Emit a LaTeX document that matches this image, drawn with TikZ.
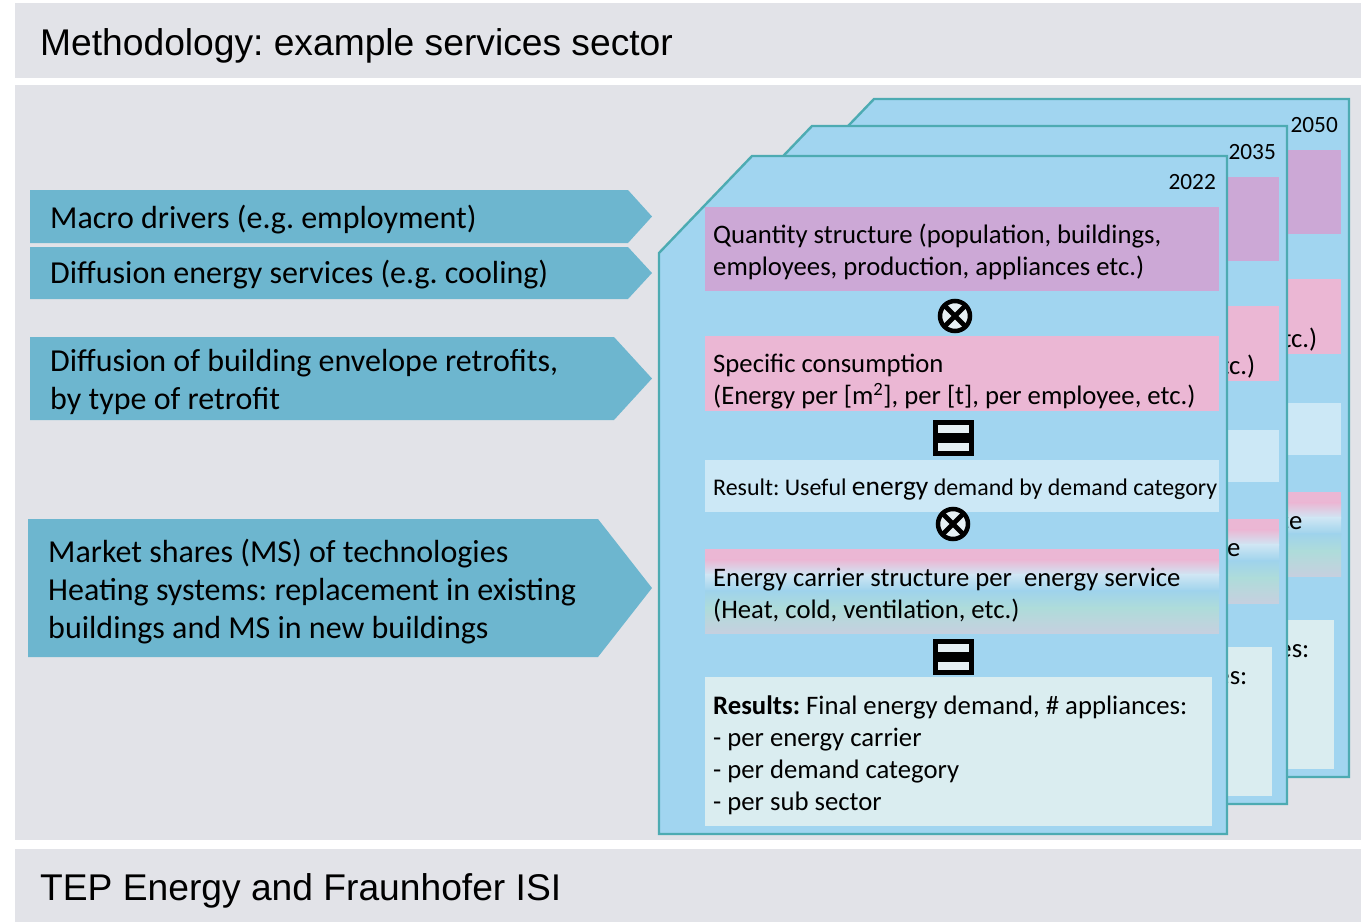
\documentclass[tikz,border=0pt]{standalone}
\usepackage{fontspec}
\setmainfont{Carlito}
\newfontfamily\arialf{Liberation Sans}
\frenchspacing
\definecolor{bggray}{HTML}{E2E3E8}
\definecolor{arrowc}{HTML}{6DB6CF}
\definecolor{cardc}{HTML}{A1D5F0}
\definecolor{cardb}{HTML}{4DABB2}
\definecolor{purp}{HTML}{CCA8D6}
\definecolor{pinkc}{HTML}{EBB7D4}
\definecolor{lightc}{HTML}{CCE8F6}
\definecolor{resc}{HTML}{DAEDF0}
\definecolor{opfill}{HTML}{E6F0F4}
\definecolor{ga}{HTML}{EBB7D4}
\definecolor{gb}{HTML}{CFE6F4}
\definecolor{gc}{HTML}{9FD3EC}
\definecolor{gd}{HTML}{AEDCDA}
\definecolor{ge}{HTML}{C6D0DF}
\tikzset{
  band/.style={fill=bggray},
  cardshape/.style={fill=cardc, draw=cardb, line width=2.4pt, line join=miter},
  arrowshape/.style={fill=arrowc},
  arrowtext/.style={anchor=west, inner sep=0pt, align=left, font=\fontsize{32}{38}\selectfont},
  boxtext/.style={anchor=west, inner sep=0pt, align=left, font=\fontsize{26.7}{32}\selectfont},
  yeartext/.style={anchor=east, inner sep=0pt, font=\fontsize{23.3}{27}\selectfont},
  headtext/.style={anchor=base west, inner sep=0pt, font=\arialf\fontsize{37.2}{44}\selectfont},
  otimesop/.style={circle, fill=opfill, draw=black, line width=4.5pt, minimum size=30pt, inner sep=0pt,
    path picture={\draw[line width=4.8pt] (path picture bounding box.north west) -- (path picture bounding box.south east)
      (path picture bounding box.north east) -- (path picture bounding box.south west);}},
  eqop/.style={rectangle, fill=black, minimum width=41pt, minimum height=36pt, inner sep=0pt,
    path picture={\fill[opfill] ([xshift=5pt,yshift=-5pt]path picture bounding box.north west) rectangle ([xshift=-5pt,yshift=-13pt]path picture bounding box.north east);
      \fill[opfill] ([xshift=5pt,yshift=5pt]path picture bounding box.south west) rectangle ([xshift=-5pt,yshift=13pt]path picture bounding box.south east);}},
}
% texts of the front card
\newcommand{\fronttexts}[1]{%
  \node[boxtext] (#1q) at (713,252) {Quantity structure (population, buildings,\\employees, production, appliances etc.)};
  \node[boxtext] (#1s) at (713,382) {Specific consumption\\(Energy per [m\textsuperscript{2}], per [t], per employee, etc.)};
  \node[anchor=west, inner sep=0pt, font=\fontsize{23.9}{28}\selectfont] (#1u) at (713,490) {Result: Useful {\fontsize{27.5}{30}\selectfont energy} demand by demand category};
  \node[boxtext] (#1c) at (713,595) {Energy carrier structure per\ \ energy service\\(Heat, cold, ventilation, etc.)};
  \node[boxtext] (#1r) at (713,755) {\textbf{Results:} Final energy demand, \# appliances:\\- per energy carrier\\- per demand category\\- per sub sector};
}
% only the ends of the texts that stick out from behind the cards in front
\newcommand{\backtexts}[1]{%
  \node[boxtext] (#1s) at (713,382) {\phantom{Specific consumption}\\\phantom{(Energy per [m\textsuperscript{2}], per [t], per employee, }etc.)};
  \node[boxtext] (#1c) at (713,595) {\phantom{Energy carrier structure per\ \ energy serv}ice\\\phantom{(Heat, cold, ventilation, etc.)}};
  \node[boxtext] (#1r) at (713,755) {\phantom{\textbf{Results:} Final energy demand, \# applia}nces:\\\phantom{- per energy carrier}\\\phantom{- per demand category}\\\phantom{- per sub sector}};
}
\newcommand{\drawcard}[5]{%
\begin{scope}[shift={(#1,#2)}]
  \path[cardshape] (659,253) -- (752,156) -- (1227,156) -- (1227,834) -- (659,834) -- cycle;
  \node[yeartext] (#4y) at (1216,182) {#3};
  \fill[purp] (705,207) rectangle (1219,291);
  \node[otimesop] (#4xa) at (955,316) {};
  \fill[pinkc] (705,336) rectangle (1219,411);
  \node[eqop] (#4ea) at (953.5,438) {};
  \fill[lightc] (705,460) rectangle (1219,512);
  \node[otimesop] (#4xb) at (953,524) {};
  \fill[ga] (705,549) rectangle (1219,560);
  \shade[top color=ga, bottom color=gb] (705,559.5) rectangle (1219,575);
  \shade[top color=gb, bottom color=gc] (705,574.5) rectangle (1219,591);
  \shade[top color=gc, bottom color=gd] (705,590.5) rectangle (1219,608);
  \shade[top color=gd, bottom color=ge] (705,607.5) rectangle (1219,633);
  \node[eqop] (#4eb) at (953.5,657) {};
  \fill[resc] (705,677) rectangle (1212,826);
  #5{#4}
\end{scope}}
\begin{document}
\begin{tikzpicture}[x=1pt, y=-1pt]
  \useasboundingbox (0,0) rectangle (1361,922);
  \fill[white] (0,0) rectangle (1361,922);
  % bands
  \fill[band] (15,3) rectangle (1361,78);
  \fill[band] (15,85) rectangle (1361,840);
  \fill[band] (15,849) rectangle (1361,922);
  \node[headtext] (title) at (40,55) {Methodology: example services sector};
  \node[headtext] (foot) at (40,900) {TEP Energy and Fraunhofer ISI};
  % input arrows
  \path[arrowshape] (30,190) -- (628,190) -- (652,216.5) -- (628,243) -- (30,243) -- cycle;
  \node[arrowtext] (a1) at (50,220) {Macro drivers (e.g. employment)};
  \path[arrowshape] (30,247) -- (628,247) -- (652,273) -- (628,299) -- (30,299) -- cycle;
  \node[arrowtext] (a2) at (50,275) {Diffusion energy services (e.g. cooling)};
  \path[arrowshape] (30,337) -- (614,337) -- (652,378.5) -- (614,420) -- (30,420) -- cycle;
  \node[arrowtext] (a3) at (50,382) {Diffusion of building envelope retrofits,\\by type of retrofit};
  \path[arrowshape] (28,519) -- (598,519) -- (652,588) -- (598,657) -- (28,657) -- cycle;
  \node[arrowtext] (a4) at (48,592) {Market shares (MS) of technologies\\Heating systems: replacement in existing\\buildings and MS in new buildings};
  % stacked cards
  \drawcard{122}{-57}{2050}{cc}{\backtexts}
  \drawcard{60}{-30}{2035}{cb}{\backtexts}
  \drawcard{0}{0}{2022}{ca}{\fronttexts}
\end{tikzpicture}
\end{document}
